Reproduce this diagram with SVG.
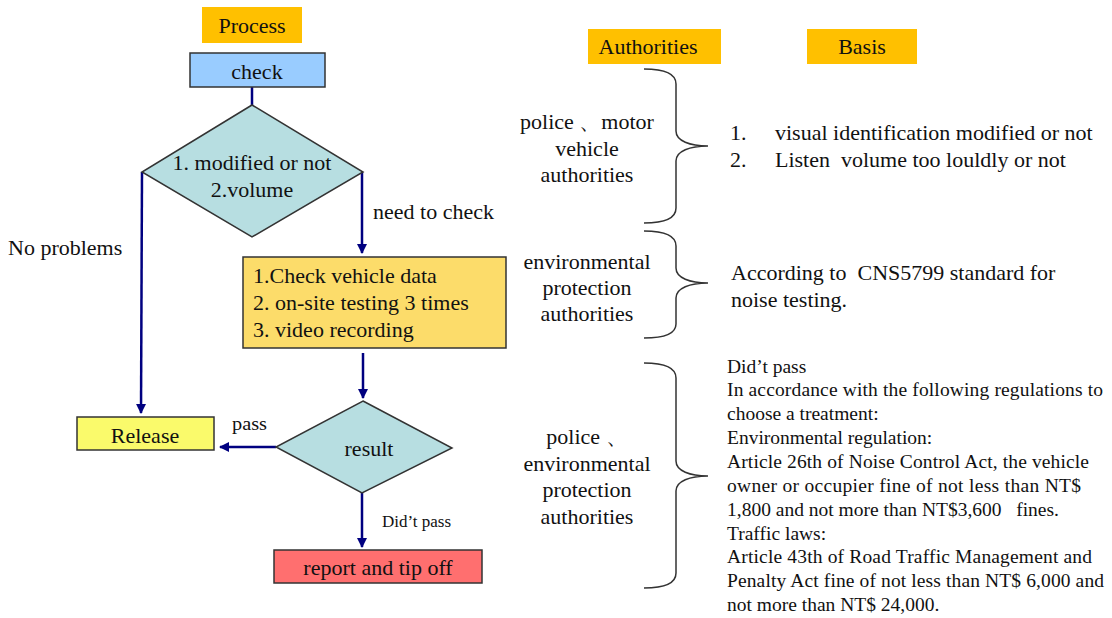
<svg xmlns="http://www.w3.org/2000/svg" width="1112" height="618" viewBox="0 0 1112 618" font-family="'Liberation Serif', 'DejaVu Serif', serif">
<defs>
<style>
text{font-family:'Liberation Serif','DejaVu Serif',serif;fill:#111;white-space:pre;}
.t22{font-size:22px;}
.t19{font-size:19.5px;}
.t17{font-size:17px;}
.t18{font-size:18px;}
.mid{text-anchor:middle;}
.hdr{fill:#FFC000;}
.box{stroke:#333;stroke-width:1.5;}
.conn{stroke:#000080;stroke-width:2.5;fill:none;}
.brace{stroke:#333;stroke-width:1.5;fill:none;}
</style>
<marker id="arr" viewBox="0 0 10 10" refX="9" refY="5" markerWidth="4" markerHeight="4" orient="auto" markerUnits="strokeWidth">
<path d="M0,0 L10,5 L0,10 z" fill="#000080"/>
</marker>
</defs>
<rect width="1112" height="618" fill="#fff"/>

<g id="connectors">
<path class="conn" d="M252,87 L252,105"/>
<path class="conn" d="M142,172 L141,413" marker-end="url(#arr)"/>
<path class="conn" d="M362,172 L362,253" marker-end="url(#arr)"/>
<path class="conn" d="M363,353 L363,398" marker-end="url(#arr)"/>
<path class="conn" d="M276,447 L220,447" marker-end="url(#arr)"/>
<path class="conn" d="M362,492 L362,547" marker-end="url(#arr)"/>
<text class="t22" x="8" y="255">No problems</text>
<text class="t22" x="373" y="219">need to check</text>
<text class="t18" x="232" y="430" textLength="35" lengthAdjust="spacingAndGlyphs">pass</text>
<text class="t17" x="382" y="527">Did’t pass</text>
</g>

<g id="process-header">
<rect class="hdr" x="202" y="7" width="100" height="36"/>
<text class="t22 mid" x="252" y="33">Process</text>
</g>

<g id="check">
<rect class="box" x="190" y="53" width="135" height="34" fill="#99CCFF"/>
<text class="t22 mid" x="257" y="79">check</text>
</g>

<g id="decision1">
<polygon class="box" points="252,105 363,172 252,237 142,172" fill="#B7DEE1"/>
<text class="t22 mid" x="252" y="170">1. modified or not</text>
<text class="t22 mid" x="252" y="197">2.volume</text>
</g>

<g id="inspect">
<rect class="box" x="243" y="257" width="263" height="91" fill="#FCDC6A"/>
<text class="t22" x="253" y="283">1.Check vehicle data</text>
<text class="t22" x="253" y="310">2. on-site testing 3 times</text>
<text class="t22" x="253" y="337">3. video recording</text>
</g>

<g id="result">
<polygon class="box" points="363,401 452,448 362,493 276,447" fill="#B7DEE1"/>
<text class="t22 mid" x="369" y="456">result</text>
</g>

<g id="release">
<rect class="box" x="77" y="417" width="137" height="33" fill="#FAFA6B"/>
<text class="t22 mid" x="145" y="443">Release</text>
</g>

<g id="report">
<rect class="box" x="274" y="550" width="208" height="33" fill="#FF6F6F"/>
<text class="t22 mid" x="378" y="575">report and tip off</text>
</g>

<g id="authorities-header">
<rect class="hdr" x="588" y="29" width="133" height="35"/>
<text class="t22 mid" x="648" y="54">Authorities</text>
</g>

<g id="basis-header">
<rect class="hdr" x="807" y="29" width="110" height="35"/>
<text class="t22 mid" x="862" y="54">Basis</text>
</g>

<g id="auth1">
<text class="t22 mid" x="587" y="129">police 、motor</text>
<text class="t22 mid" x="587" y="156">vehicle</text>
<text class="t22 mid" x="587" y="182">authorities</text>
<path class="brace" d="M644,69 C665,69 676,74 676,84 L676,131 C676,141 690,146 708,146 C690,146 676,151 676,161 L676,208 C676,218 665,223 644,223"/>
</g>

<g id="basis1">
<text class="t22" x="730" y="140">1.</text>
<text class="t22" x="775" y="140">visual identification modified or not</text>
<text class="t22" x="730" y="167">2.</text>
<text class="t22" x="775" y="167">Listen  volume too louldly or not</text>
</g>

<g id="auth2">
<text class="t22 mid" x="587" y="269">environmental</text>
<text class="t22 mid" x="587" y="295">protection</text>
<text class="t22 mid" x="587" y="321">authorities</text>
<path class="brace" d="M644,231 C665,231 676,236 676,246 L676,268 C676,278 690,283 708,283 C690,283 676,288 676,298 L676,324 C676,334 665,338 644,338"/>
</g>

<g id="basis2">
<text class="t22" x="731" y="280">According to  CNS5799 standard for</text>
<text class="t22" x="731" y="307">noise testing.</text>
</g>

<g id="auth3">
<text class="t22 mid" x="587" y="444">police 、</text>
<text class="t22 mid" x="587" y="471">environmental</text>
<text class="t22 mid" x="587" y="497">protection</text>
<text class="t22 mid" x="587" y="524">authorities</text>
<path class="brace" d="M644,363 C665,363 676,368 676,378 L676,461 C676,471 690,476 708,476 C690,476 676,481 676,491 L676,573 C676,583 665,588 644,588"/>
</g>

<g id="basis3">
<text class="t19" x="727" y="373">Did’t pass</text>
<text class="t19" x="727" y="396" textLength="376" lengthAdjust="spacing">In accordance with the following regulations to</text>
<text class="t19" x="727" y="420">choose a treatment:</text>
<text class="t19" x="727" y="444">Environmental regulation:</text>
<text class="t19" x="727" y="468" textLength="362" lengthAdjust="spacing">Article 26th of Noise Control Act, the vehicle</text>
<text class="t19" x="727" y="492" textLength="354" lengthAdjust="spacing">owner or occupier fine of not less than NT$</text>
<text class="t19" x="727" y="516">1,800 and not more than NT$3,600   fines.</text>
<text class="t19" x="727" y="540">Traffic laws:</text>
<text class="t19" x="727" y="563" textLength="365" lengthAdjust="spacing">Article 43th of Road Traffic Management and</text>
<text class="t19" x="727" y="587" textLength="377" lengthAdjust="spacing">Penalty Act fine of not less than NT$ 6,000 and</text>
<text class="t19" x="727" y="611">not more than NT$ 24,000.</text>
</g>
</svg>
